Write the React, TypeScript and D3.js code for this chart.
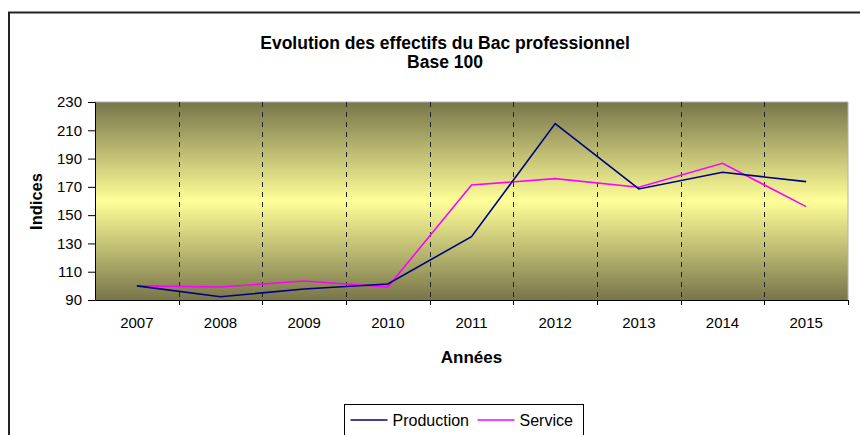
import { useEffect, useRef } from 'react'
import * as d3 from 'd3'

const years = ['2007', '2008', '2009', '2010', '2011', '2012', '2013', '2014', '2015']
const production = [100, 92.3, 97.8, 101.3, 134.8, 214.7, 168.5, 180.3, 173.7]
const service = [100, 99.2, 103.4, 99.2, 171.3, 175.8, 169.7, 186.7, 156]
const yTicks = [90, 110, 130, 150, 170, 190, 210, 230]

const W = 860
const H = 435
const font = 'Arial, "Liberation Sans", sans-serif'

export default function App() {
  const ref = useRef<SVGSVGElement | null>(null)
  useEffect(() => {
    const svg = d3.select(ref.current)
    svg.selectAll('*').remove()
    svg.attr('width', W).attr('height', H).style('display', 'block').style('font-family', font)

    const margin = { top: 102, right: 12, bottom: 135, left: 95 }
    const innerW = W - margin.left - margin.right
    const innerH = H - margin.top - margin.bottom

    // outer chart frame
    svg.append('rect').attr('x', 0).attr('y', 0).attr('width', W).attr('height', H).attr('fill', '#fff')
    svg.append('path').attr('d', `M9,${H + 5}V12.5H${W + 5}`).attr('fill', 'none').attr('stroke', '#222').attr('stroke-width', 2)

    const defs = svg.append('defs')
    const grad = defs.append('linearGradient').attr('id', 'bg').attr('x1', 0).attr('y1', 0).attr('x2', 0).attr('y2', 1)
    grad.append('stop').attr('offset', '0%').attr('stop-color', '#78754a')
    grad.append('stop').attr('offset', '50%').attr('stop-color', '#ffff99')
    grad.append('stop').attr('offset', '100%').attr('stop-color', '#78754a')

    const g = svg.append('g').attr('transform', `translate(${margin.left},${margin.top})`)

    const x = d3.scaleBand().domain(years).range([0, innerW])
    const y = d3.scaleLinear().domain([90, 230]).range([innerH, 0])

    g.append('rect').attr('width', innerW).attr('height', innerH).attr('fill', 'url(#bg)')
    g.append('path').attr('d', `M0,0H${innerW}V${innerH}`).attr('fill', 'none').attr('stroke', '#b0b0b0').attr('stroke-width', 1)

    // vertical dashed gridlines at category boundaries
    g.selectAll(null)
      .data(years.slice(1))
      .enter()
      .append('line')
      .attr('x1', (d: string) => Math.round(x(d) as number) + 0.5)
      .attr('x2', (d: string) => Math.round(x(d) as number) + 0.5)
      .attr('y1', 0)
      .attr('y2', innerH)
      .attr('stroke', '#222')
      .attr('stroke-width', 1)
      .attr('stroke-dasharray', '5,5')

    const xAxis = d3.axisBottom(x).tickSize(0).tickPadding(17)
    const xg = g.append('g').attr('transform', `translate(0,${innerH})`).call(xAxis as any)
    xg.select('.domain').attr('stroke', '#000')
    xg.selectAll('.tick text').attr('font-size', 15).attr('fill', '#000').attr('font-family', font)
    // tick marks at boundaries
    g.selectAll(null)
      .data(years.slice(1).concat(['end']))
      .enter()
      .append('line')
      .attr('x1', (d: string) => (d === 'end' ? innerW : Math.round(x(d) as number)) + 0.5)
      .attr('x2', (d: string) => (d === 'end' ? innerW : Math.round(x(d) as number)) + 0.5)
      .attr('y1', innerH)
      .attr('y2', innerH + 5)
      .attr('stroke', '#000')

    const yAxis = d3.axisLeft(y).tickValues(yTicks).tickSize(7).tickPadding(6)
    const yg = g.append('g').call(yAxis as any)
    yg.select('.domain').attr('stroke', '#000')
    yg.selectAll('.tick line').attr('stroke', '#000')
    yg.selectAll('.tick text').attr('font-size', 15).attr('fill', '#000').attr('font-family', font)

    const line = d3
      .line<number>()
      .x((_d: number, i: number) => (x(years[i]) as number) + x.bandwidth() / 2)
      .y((d: number) => y(d))

    g.append('path').datum(service).attr('fill', 'none').attr('stroke', '#ff00ff').attr('stroke-width', 1.6).attr('d', line as any)
    g.append('path').datum(production).attr('fill', 'none').attr('stroke', '#000080').attr('stroke-width', 1.6).attr('d', line as any)

    // titles
    svg.append('text').attr('x', 445).attr('y', 48.5).attr('text-anchor', 'middle').attr('font-size', 17.5).attr('font-weight', 'bold').text('Evolution des effectifs du Bac professionnel')
    svg.append('text').attr('x', 445).attr('y', 67.5).attr('text-anchor', 'middle').attr('font-size', 17.5).attr('font-weight', 'bold').text('Base 100')
    svg.append('text').attr('x', 471.5).attr('y', 363).attr('text-anchor', 'middle').attr('font-size', 17).attr('font-weight', 'bold').text('Années')
    svg.append('text').attr('transform', 'translate(41.5,201.5) rotate(-90)').attr('text-anchor', 'middle').attr('font-size', 16.5).attr('font-weight', 'bold').text('Indices')

    // legend
    const lg = svg.append('g').attr('transform', 'translate(344.5,404.5)')
    lg.append('rect').attr('width', 239).attr('height', 40).attr('fill', '#fff').attr('stroke', '#000')
    const items = [
      { name: 'Production', color: '#000080', x: 6 },
      { name: 'Service', color: '#ff00ff', x: 133 },
    ]
    items.forEach((it) => {
      lg.append('line').attr('x1', it.x).attr('x2', it.x + 37).attr('y1', 15.5).attr('y2', 15.5).attr('stroke', it.color).attr('stroke-width', 1.6)
      lg.append('text').attr('x', it.x + 42).attr('y', 21.5).attr('font-size', 16).text(it.name)
    })
  }, [])
  return <svg ref={ref} style={{ position: 'absolute', left: 0, top: 0 }} />
}
